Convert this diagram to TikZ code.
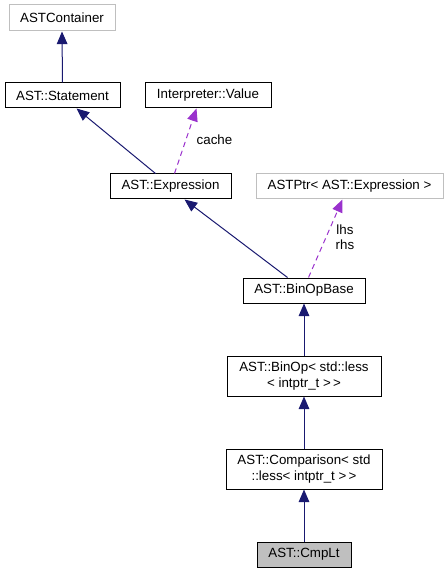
\documentclass[tikz,border=0pt]{standalone}
\usepackage{fontspec}
\setmainfont[Ligatures=NoCommon]{Liberation Sans}
\usetikzlibrary{arrows.meta,calc}
\definecolor{edgeblue}{HTML}{191970}
\definecolor{edgepurple}{HTML}{9A32CD}
\definecolor{lightgr}{HTML}{BFBFBF}
\begin{document}
\begin{tikzpicture}[x=0.75pt,y=-0.75pt,
  font=\fontsize{10}{11.5}\selectfont,
  box/.style={draw=black, line width=0.75pt, inner sep=0pt, align=center, minimum height=18.75pt},
  grbox/.style={box, draw=lightgr},
  inh/.style={draw=edgeblue, line width=0.75pt, -{Triangle[length=9.5pt,width=8pt]}},
  use/.style={draw=edgepurple, line width=0.75pt, dash pattern=on 4pt off 3pt, -{Triangle[length=9.5pt,width=8pt]}},
  lab/.style={inner sep=0pt, align=center}]
\useasboundingbox (0,0) rectangle (448,573);
\node[grbox, minimum width=79.5pt, minimum height=19.5pt] (cont) at (62,18) {ASTContainer};
\node[box, minimum width=86.25pt] (stmt) at (62.5,95.5) {AST::Statement};
\node[box, minimum width=94.5pt] (val) at (208,95.5) {Interpreter::Value};
\node[box, minimum width=90.75pt] (expr) at (170.5,186.5) {AST::Expression};
\node[grbox, minimum width=140.25pt] (ptr) at (349.5,186.5) {ASTPtr< AST::Expression >};
\node[box, minimum width=91.5pt] (bob) at (304,290.5) {AST::BinOpBase};
\node[box, minimum width=115.5pt, minimum height=30pt] (binop) at (304,376) {AST::BinOp< std::less\\< intptr\_t >{}\,>{}};
\node[box, minimum width=117pt, minimum height=30pt] (cmp) at (304,469) {AST::Comparison< std\\::less< intptr\_t >{}\,>{}};
\node[box, fill=lightgr, minimum width=70.5pt] (lt) at (304,554.5) {AST::CmpLt};
\node[lab] (cachelab) at (214.5,140) {cache};
\node[lab] (lhsrhs) at (345,237.5) {lhs\\rhs};
\draw[inh] (stmt.north) -- (cont.south);
\draw[inh] ($(expr.north west)+(46,0)$) -- ($(stmt.south west)+(72,0)$);
\draw[use] ($(expr.north west)+(65,0)$) -- ($(val.south west)+(52,0)$);
\draw[inh] ($(bob.north west)+(45,0)$) -- ($(expr.south west)+(75,0)$);
\draw[use] ($(bob.north west)+(66,0)$) -- ($(ptr.south west)+(87,0)$);
\draw[inh] (binop.north) -- (bob.south);
\draw[inh] (cmp.north) -- (binop.south);
\draw[inh] (lt.north) -- (cmp.south);
\end{tikzpicture}
\end{document}
